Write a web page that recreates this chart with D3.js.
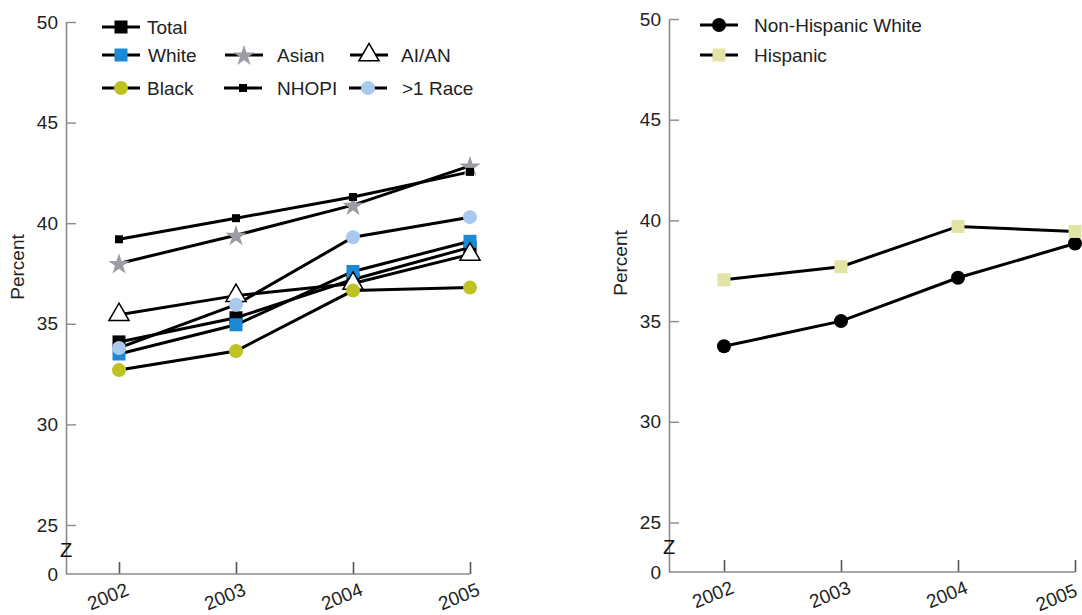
<!DOCTYPE html>
<html>
<head>
<meta charset="utf-8">
<script src="https://cdn.jsdelivr.net/npm/d3@7"></script>
<style>
  html, body { margin: 0; padding: 0; background: #fff; }
  svg { display: block; font-family: "Liberation Sans", Arial, Helvetica, sans-serif; }
</style>
</head>
<body>
<svg id="chart" width="1082" height="615"></svg>
<script>
// ---------------- data ----------------
const years = ["2002", "2003", "2004", "2005"];
const yTicks = [0, 25, 30, 35, 40, 45, 50];

const total   = [34.1, 35.3, 37.2, 38.8];
const white   = [33.5, 34.95, 37.6, 39.1];
const asian   = [38.0, 39.4, 40.9, 42.85];
const aian    = [35.45, 36.4, 37.0, 38.45];
const black   = [32.7, 33.65, 36.65, 36.8];
const nhopi   = [39.2, 40.25, 41.3, 42.55];
const multi   = [33.8, 35.95, 39.3, 40.3];

const nonHispWhite = [33.75, 35.0, 37.15, 38.85];
const hispanic     = [37.05, 37.7, 39.7, 39.45];

const leftSeries = [
  { name: "Total",   values: total, marker: "bigsquare", fill: "#000000" },
  { name: "White",   values: white, marker: "bigsquare", fill: "#1a8ad6" },
  { name: "Asian",   values: asian, marker: "star",      fill: "#9c9ca4" },
  { name: "AI/AN",   values: aian,  marker: "triangle",  fill: "#ffffff" },
  { name: "Black",   values: black, marker: "circle",    fill: "#bec222" },
  { name: "NHOPI",   values: nhopi, marker: "smallsquare", fill: "#000000" },
  { name: ">1 Race", values: multi, marker: "circle",    fill: "#a9c9ef" }
];
const rightSeries = [
  { name: "Non-Hispanic White", values: nonHispWhite, marker: "circle",    fill: "#000000" },
  { name: "Hispanic",           values: hispanic,     marker: "bigsquare", fill: "#e2e4a6" }
];

// ---------------- drawing ----------------
const svg = d3.select("#chart");
const FONT = 19;

function drawMarker(g, type, fill, x, y) {
  if (type === "bigsquare") {
    g.append("rect").attr("x", x - 6.5).attr("y", y - 6.5).attr("width", 13).attr("height", 13).attr("fill", fill);
  } else if (type === "smallsquare") {
    g.append("rect").attr("x", x - 4).attr("y", y - 4).attr("width", 8).attr("height", 8).attr("fill", fill);
  } else if (type === "circle") {
    g.append("circle").attr("cx", x).attr("cy", y).attr("r", 7).attr("fill", fill);
  } else if (type === "star") {
    g.append("path").attr("d", d3.symbol(d3.symbolStar, 140)()).attr("transform", `translate(${x},${y + 1})`).attr("fill", fill);
  } else if (type === "triangle") {
    g.append("path").attr("d", d3.symbol(d3.symbolTriangle, 175)()).attr("transform", `translate(${x},${y})`)
      .attr("fill", fill).attr("stroke", "#000").attr("stroke-width", 1.5);
  }
}

function panel(opts) {
  const { axisX, baseY, y25, y50, xFirst, xLast, labelX, labelY, series, lastShift } = opts;
  const g = svg.append("g");
  const y = d3.scaleLinear().domain([0, 25, 50]).range([baseY, y25, y50]);
  const x = d3.scalePoint().domain(years).range([xFirst, xLast]);

  // y axis
  const yAxis = d3.axisLeft(y).tickValues(yTicks).tickSizeInner(-10).tickSizeOuter(0).tickPadding(8);
  const ya = g.append("g").attr("transform", `translate(${axisX},0)`).call(yAxis);
  ya.select(".domain").attr("stroke", "#8a8a8a").attr("stroke-width", 1.6);
  ya.selectAll(".tick line").attr("stroke", "#8a8a8a").attr("stroke-width", 1.4)
    .filter(d => d === 0).remove();
  ya.selectAll(".tick text").attr("font-size", FONT).attr("fill", "#222").style("font-family", "Liberation Sans, Arial, sans-serif");

  // x axis
  const xAxis = d3.axisBottom(x).tickSizeInner(-12).tickSizeOuter(0).tickPadding(0);
  const xa = g.append("g").attr("transform", `translate(0,${baseY})`).call(xAxis);
  xa.select(".domain").remove();
  xa.selectAll(".tick line").attr("stroke", "#555").attr("stroke-width", 1.6);
  xa.selectAll(".tick text")
    .attr("font-size", FONT).attr("fill", "#222").style("font-family", "Liberation Sans, Arial, sans-serif")
    .attr("text-anchor", "end").attr("x", (d, i) => i === years.length - 1 ? 2 - lastShift : 2).attr("y", 23).attr("dy", 0)
    .attr("transform", "rotate(-22)");
  g.append("line").attr("x1", axisX).attr("x2", x(years[years.length - 1]))
    .attr("y1", baseY).attr("y2", baseY).attr("stroke", "#8a8a8a").attr("stroke-width", 1.6);

  // break mark
  g.append("text").attr("x", axisX).attr("y", (y(0) + y(25)) / 2 + 7).attr("text-anchor", "middle")
    .attr("font-size", 20).attr("fill", "#111").text("Z");

  // y label
  g.append("text").attr("transform", `translate(${labelX},${labelY}) rotate(-90)`)
    .attr("text-anchor", "middle").attr("font-size", 19).attr("fill", "#222").text("Percent");

  // lines
  const line = d3.line().x((d, i) => x(years[i])).y(d => y(d));
  series.forEach(s => {
    g.append("path").datum(s.values).attr("d", line).attr("fill", "none")
      .attr("stroke", "#000").attr("stroke-width", 3);
  });
  series.forEach(s => {
    const mg = g.append("g");
    s.values.forEach((v, i) => drawMarker(mg, s.marker, s.fill, x(years[i]), y(v)));
  });
  return g;
}

panel({ axisX: 66, baseY: 574, y25: 525, y50: 22, xFirst: 119, xLast: 470, labelX: 24, labelY: 267, series: leftSeries, lastShift: 0 });
panel({ axisX: 669, baseY: 572, y25: 522.5, y50: 19, xFirst: 724, xLast: 1075, labelX: 627, labelY: 263, series: rightSeries, lastShift: 8 });

// legends
function legendItem(s, lx, ly, tx) {
  const g = svg.append("g");
  g.append("line").attr("x1", lx).attr("x2", lx + 38).attr("y1", ly).attr("y2", ly)
    .attr("stroke", "#000").attr("stroke-width", 3);
  drawMarker(g, s.marker, s.fill, lx + 19, ly);
  g.append("text").attr("x", tx).attr("y", ly + 7).attr("font-size", 19).attr("fill", "#222").text(s.name);
}
const L = leftSeries;
legendItem(L[0], 102, 27, 147);
legendItem(L[1], 102, 55, 148);
legendItem(L[2], 225, 55, 277);
legendItem(L[3], 350, 55, 401);
legendItem(L[4], 102, 88, 147);
legendItem(L[5], 224, 88, 277);
legendItem(L[6], 349, 88, 402);
legendItem(rightSeries[0], 700, 25, 754);
legendItem(rightSeries[1], 700, 55, 754);
</script>
</body>
</html>
